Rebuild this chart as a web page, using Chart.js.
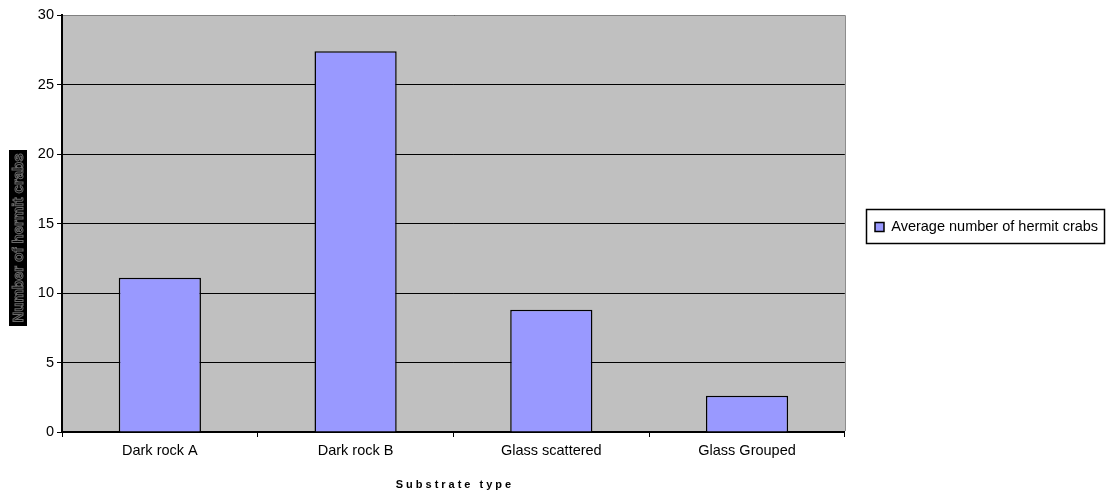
<!DOCTYPE html>
<html>
<head>
<meta charset="utf-8">
<script src="https://cdn.jsdelivr.net/npm/chart.js@4.4.0/dist/chart.umd.min.js"></script>
<style>
html, body { margin: 0; padding: 0; background: #fff; }
#wrap { width: 1109px; height: 495px; }
</style>
</head>
<body>
<div id="wrap"><canvas id="crabChart"></canvas></div>
<script>
var substrates = ['Dark rock A', 'Dark rock B', 'Glass scattered', 'Glass Grouped'];
var avgCrabs = [11.1, 27.4, 8.8, 2.6];
var yTicks = [0, 5, 10, 15, 20, 25, 30];
var seriesName = 'Average number of hermit crabs';
var yTitle = 'Number of hermit crabs';
var xTitle = 'Substrate type';

var FONT = "'Liberation Sans', Arial, sans-serif";
var LEGEND_LEFT = 865;
var LEGEND_MID = 227;

// grey plot area, grey top/right border, legend frame and the two axis titles
var frame = {
    id: 'frame',
    afterLayout: function (chart) {
        var l = chart.legend;
        if (!l || !l.legendHitBoxes) return;
        var w = l.width;
        l.left = LEGEND_LEFT;
        l.right = LEGEND_LEFT + w;
        l.adjustHitBoxes();
        var h = l.legendHitBoxes[0];
        if (h) {
            var d = LEGEND_MID - (h.top + h.height / 2);
            l.top += d;
            l.bottom += d;
            l.adjustHitBoxes();
        }
    },
    beforeDraw: function (chart) {
        var c = chart.ctx, a = chart.chartArea;
        c.save();
        c.fillStyle = '#c0c0c0';
        c.fillRect(a.left, a.top, a.right - a.left, a.bottom - a.top);
        c.restore();
    },
    afterDraw: function (chart) {
        var c = chart.ctx, a = chart.chartArea;
        c.save();
        c.strokeStyle = '#808080';
        c.lineWidth = 1;
        c.beginPath();
        c.moveTo(a.left + 1, a.top + 0.5);
        c.lineTo(a.right + 0.5, a.top + 0.5);
        c.lineTo(a.right + 0.5, a.bottom - 1);
        c.stroke();

        // legend border, sized from the legend text
        c.font = '14.5px ' + FONT;
        var tw = c.measureText(seriesName).width;
        var itemLeft = LEGEND_LEFT + 10;
        var x0 = itemLeft - 8.5;
        var x1 = Math.round(itemLeft + 9 + 7.25 + tw) + 6.5;
        var y0 = LEGEND_MID - 17.5;
        c.strokeStyle = '#000';
        c.lineWidth = 1.5;
        c.strokeRect(x0, y0, x1 - x0, 34);

        // y title: black block with outlined glyphs
        c.fillStyle = '#000';
        c.fillRect(9, 150, 18, 176);
        c.translate(18, 238);
        c.rotate(-Math.PI / 2);
        c.font = 'bold 15px ' + FONT;
        c.textAlign = 'center';
        c.textBaseline = 'middle';
        c.strokeStyle = '#6a6a6a';
        c.lineWidth = 1;
        c.strokeText(yTitle, 0, 1);
        c.setTransform(1, 0, 0, 1, 0, 0);

        // x title, letter spaced
        c.font = 'bold 11px ' + FONT;
        c.fillStyle = '#000';
        c.textAlign = 'center';
        c.textBaseline = 'middle';
        c.letterSpacing = '3px';
        c.fillText(xTitle, (a.left + a.right) / 2 + 1.5, 485);
        c.restore();
    }
};

var ctx = document.getElementById('crabChart').getContext('2d');
var crabChart = new Chart(ctx, {
    type: 'bar',
    data: {
        labels: substrates,
        datasets: [{
            label: seriesName,
            data: avgCrabs,
            backgroundColor: '#9999ff',
            borderColor: '#000',
            borderWidth: 1.5,
            barPercentage: 0.42,
            categoryPercentage: 1
        }]
    },
    options: {
        responsive: true,
        maintainAspectRatio: false,
        animation: false,
        devicePixelRatio: 1,
        layout: { padding: { top: 15, left: 0, right: 21, bottom: 0 } },
        plugins: {
            tooltip: { enabled: false },
            legend: {
                position: 'right',
                labels: {
                    color: '#000',
                    font: { family: FONT, size: 14.5 },
                    boxWidth: 9,
                    boxHeight: 9,
                    padding: 10,
                    generateLabels: function (chart) {
                        return [{
                            text: seriesName,
                            fillStyle: '#9999ff',
                            strokeStyle: '#000',
                            lineWidth: 1.5,
                            datasetIndex: 0
                        }];
                    }
                }
            }
        },
        scales: {
            x: {
                afterFit: function (s) { s.height = 63; },
                grid: {
                    offset: true,
                    drawOnChartArea: false,
                    drawTicks: true,
                    tickLength: 5,
                    color: '#000'
                },
                border: { display: true, color: '#000', width: 2 },
                ticks: {
                    color: '#000',
                    font: { family: FONT, size: 14.5 },
                    padding: 5,
                    maxRotation: 0
                }
            },
            y: {
                min: 0,
                max: 30,
                afterFit: function (s) { s.width = 62; },
                afterBuildTicks: function (s) {
                    s.ticks = yTicks.map(function (v) { return { value: v }; });
                },
                grid: {
                    color: '#000',
                    lineWidth: 1,
                    tickLength: 5
                },
                border: { display: true, color: '#000', width: 2 },
                ticks: {
                    color: '#000',
                    font: { family: FONT, size: 14.5 },
                    padding: 3
                }
            }
        }
    },
    plugins: [frame]
});
</script>
</body>
</html>
